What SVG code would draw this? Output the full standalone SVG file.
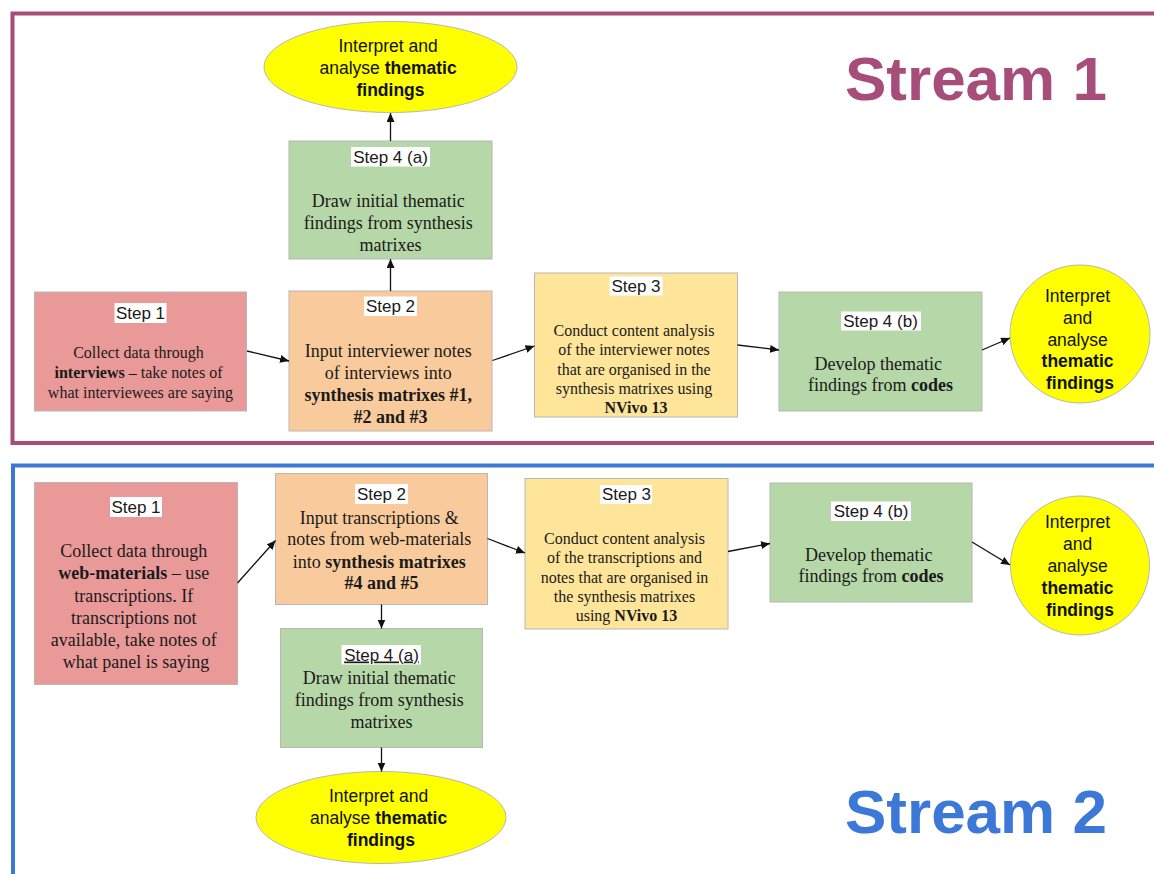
<svg xmlns="http://www.w3.org/2000/svg" width="1154" height="874" viewBox="0 0 1154 874">
  <style>
    .frame { fill: none; stroke-width: 4; }
    .box { stroke: #b7b7b7; stroke-width: 1; }
    .red { fill: #ea9999; }
    .orange { fill: #f9cb9c; }
    .yellow { fill: #ffe599; }
    .green { fill: #b6d7a8; }
    .oval { fill: #ffff00; stroke: #b7b7b7; stroke-width: 1; }
    .lblbg { fill: #ffffff; }
    .lbl { font-family: "Liberation Sans", Arial, sans-serif; font-size: 17px; fill: #1a1a1a; text-anchor: middle; }
    .serif { font-family: "Liberation Serif", "Times New Roman", serif; fill: #1a1a1a; text-anchor: middle; }
    .s16 { font-size: 16px; }
    .s18 { font-size: 18px; }
    .sans { font-family: "Liberation Sans", Arial, sans-serif; font-size: 17.5px; fill: #111; text-anchor: middle; }
    .b { font-weight: bold; }
    .title { font-family: "Liberation Sans", Arial, sans-serif; font-size: 62px; font-weight: bold; }
    .conn line { stroke: #111; stroke-width: 1.3; marker-end: url(#arrow); }
  </style>
  <defs>
    <marker id="arrow" markerUnits="userSpaceOnUse" markerWidth="10" markerHeight="8" refX="9" refY="4" orient="auto">
      <path d="M0,0 L9,4 L0,8 Z" fill="#111"/>
    </marker>
  </defs>

  <rect width="1154" height="874" fill="#ffffff"/>

  <!-- stream frames -->
  <rect class="frame" x="12.5" y="13.5" width="1160" height="429.5" stroke="#a64d79"/>
  <rect class="frame" x="13" y="465.5" width="1160" height="430" stroke="#3c78d8"/>
  <text class="title" x="845" y="100" fill="#a64d79">Stream 1</text>
  <text class="title" x="845" y="833" fill="#3c78d8">Stream 2</text>

  <!-- ===== Stream 1 ===== -->
  <g id="s1-interpret-top">
    <ellipse class="oval" cx="390.5" cy="67" rx="126.5" ry="45.5"/>
    <text class="sans">
      <tspan x="390.5" y="52">Interpret and</tspan>
      <tspan x="390.5" y="74">analyse <tspan class="b">thematic</tspan></tspan>
      <tspan x="390.5" y="96" class="b">findings</tspan>
    </text>
  </g>

  <g id="s1-step4a">
    <rect class="box green" x="289" y="141" width="203" height="118"/>
    <rect class="lblbg" x="351" y="147" width="79" height="19.5"/>
    <text class="lbl" x="390.5" y="162.5">Step 4 (a)</text>
    <text class="serif s18">
      <tspan x="390.5" y="207">Draw initial thematic</tspan>
      <tspan x="390.5" y="229">findings from synthesis</tspan>
      <tspan x="390.5" y="251">matrixes</tspan>
    </text>
  </g>

  <g id="s1-step1">
    <rect class="box red" x="34.5" y="292" width="212" height="119"/>
    <rect class="lblbg" x="114.5" y="303" width="52" height="20"/>
    <text class="lbl" x="140.5" y="319">Step 1</text>
    <text class="serif s16">
      <tspan x="140.5" y="358">Collect data through</tspan>
      <tspan x="140.5" y="377.5"><tspan class="b">interviews</tspan> – take notes of</tspan>
      <tspan x="140.5" y="397.5">what interviewees are saying</tspan>
    </text>
  </g>

  <g id="s1-step2">
    <rect class="box orange" x="289" y="291" width="203" height="140"/>
    <rect class="lblbg" x="364" y="296.5" width="53" height="19.5"/>
    <text class="lbl" x="390.5" y="312">Step 2</text>
    <text class="serif s18">
      <tspan x="390.5" y="357">Input interviewer notes</tspan>
      <tspan x="390.5" y="379">of interviews into</tspan>
      <tspan x="390.5" y="401" class="b">synthesis matrixes #1,</tspan>
      <tspan x="390.5" y="423" class="b">#2 and #3</tspan>
    </text>
  </g>

  <g id="s1-step3">
    <rect class="box yellow" x="534.5" y="273" width="203" height="144"/>
    <rect class="lblbg" x="609.5" y="276.5" width="53" height="19"/>
    <text class="lbl" x="636" y="291.5">Step 3</text>
    <text class="serif s16">
      <tspan x="636" y="335.5">Conduct content analysis</tspan>
      <tspan x="636" y="355">of the interviewer notes</tspan>
      <tspan x="636" y="374.5">that are organised in the</tspan>
      <tspan x="636" y="394">synthesis matrixes using</tspan>
      <tspan x="636" y="412.5" class="b">NVivo 13</tspan>
    </text>
  </g>

  <g id="s1-step4b">
    <rect class="box green" x="779" y="292" width="203" height="119"/>
    <rect class="lblbg" x="841" y="311.5" width="80" height="19"/>
    <text class="lbl" x="880.5" y="327">Step 4 (b)</text>
    <text class="serif s18">
      <tspan x="880.5" y="369.5">Develop thematic</tspan>
      <tspan x="880.5" y="391">findings from <tspan class="b">codes</tspan></tspan>
    </text>
  </g>

  <g id="s1-interpret-right">
    <ellipse class="oval" cx="1080" cy="334" rx="70" ry="69"/>
    <text class="sans">
      <tspan x="1080" y="302">Interpret</tspan>
      <tspan x="1080" y="324">and</tspan>
      <tspan x="1080" y="345.5">analyse</tspan>
      <tspan x="1080" y="367" class="b">thematic</tspan>
      <tspan x="1080" y="388.5" class="b">findings</tspan>
    </text>
  </g>

  <!-- ===== Stream 2 ===== -->
  <g id="s2-step1">
    <rect class="box red" x="34.5" y="482.5" width="203" height="202"/>
    <rect class="lblbg" x="110" y="497" width="52" height="20"/>
    <text class="lbl" x="136" y="513">Step 1</text>
    <text class="serif s18">
      <tspan x="136" y="557">Collect data through</tspan>
      <tspan x="136" y="579.3"><tspan class="b">web-materials</tspan> – use</tspan>
      <tspan x="136" y="601.7">transcriptions. If</tspan>
      <tspan x="136" y="623.7">transcriptions not</tspan>
      <tspan x="136" y="646">available, take notes of</tspan>
      <tspan x="136" y="667.7">what panel is saying</tspan>
    </text>
  </g>

  <g id="s2-step2">
    <rect class="box orange" x="275.5" y="473.5" width="212" height="131"/>
    <rect class="lblbg" x="355" y="484" width="53" height="20"/>
    <text class="lbl" x="381.5" y="500">Step 2</text>
    <text class="serif s18">
      <tspan x="381.5" y="523.7">Input transcriptions &amp;</tspan>
      <tspan x="381.5" y="545.3">notes from web-materials</tspan>
      <tspan x="381.5" y="567.7">into <tspan class="b">synthesis matrixes</tspan></tspan>
      <tspan x="381.5" y="589.3" class="b">#4 and #5</tspan>
    </text>
  </g>

  <g id="s2-step4a">
    <rect class="box green" x="280.5" y="628.5" width="202" height="119"/>
    <rect class="lblbg" x="341.5" y="645" width="79.5" height="19.5"/>
    <text class="lbl" x="381.5" y="660.5" text-decoration="underline">Step 4 (a)</text>
    <text class="serif s18">
      <tspan x="381.5" y="683.7">Draw initial thematic</tspan>
      <tspan x="381.5" y="706">findings from synthesis</tspan>
      <tspan x="381.5" y="727.7">matrixes</tspan>
    </text>
  </g>

  <g id="s2-interpret-bottom">
    <ellipse class="oval" cx="381" cy="817.5" rx="125" ry="46"/>
    <text class="sans">
      <tspan x="381" y="802">Interpret and</tspan>
      <tspan x="381" y="824">analyse <tspan class="b">thematic</tspan></tspan>
      <tspan x="381" y="846" class="b">findings</tspan>
    </text>
  </g>

  <g id="s2-step3">
    <rect class="box yellow" x="525" y="478.5" width="203" height="150.5"/>
    <rect class="lblbg" x="600" y="485" width="52" height="19"/>
    <text class="lbl" x="626.5" y="500">Step 3</text>
    <text class="serif s16">
      <tspan x="626.5" y="544">Conduct content analysis</tspan>
      <tspan x="626.5" y="563">of the transcriptions and</tspan>
      <tspan x="626.5" y="582.5">notes that are organised in</tspan>
      <tspan x="626.5" y="602">the synthesis matrixes</tspan>
      <tspan x="626.5" y="621">using <tspan class="b">NVivo 13</tspan></tspan>
    </text>
  </g>

  <g id="s2-step4b">
    <rect class="box green" x="770" y="483" width="202" height="119"/>
    <rect class="lblbg" x="831" y="501.5" width="80" height="19.5"/>
    <text class="lbl" x="871" y="517">Step 4 (b)</text>
    <text class="serif s18">
      <tspan x="871" y="561">Develop thematic</tspan>
      <tspan x="871" y="582">findings from <tspan class="b">codes</tspan></tspan>
    </text>
  </g>

  <g id="s2-interpret-right">
    <ellipse class="oval" cx="1080" cy="565.5" rx="69.5" ry="69.5"/>
    <text class="sans">
      <tspan x="1080" y="528">Interpret</tspan>
      <tspan x="1080" y="550">and</tspan>
      <tspan x="1080" y="572">analyse</tspan>
      <tspan x="1080" y="594" class="b">thematic</tspan>
      <tspan x="1080" y="616" class="b">findings</tspan>
    </text>
  </g>

  <!-- connectors -->
  <g id="connectors" class="conn">
    <line x1="247" y1="351" x2="289" y2="361"/>
    <line x1="492.5" y1="360.5" x2="534.5" y2="346"/>
    <line x1="737.5" y1="345" x2="779" y2="350"/>
    <line x1="982" y1="350" x2="1010" y2="338"/>
    <line x1="390.5" y1="291" x2="390.5" y2="259"/>
    <line x1="390.5" y1="141" x2="390.5" y2="113"/>

    <line x1="237.5" y1="583" x2="275.5" y2="540.5"/>
    <line x1="381.5" y1="604.5" x2="381.5" y2="628.5"/>
    <line x1="381.5" y1="747.5" x2="381.5" y2="771.5"/>
    <line x1="487.5" y1="538.5" x2="525" y2="553"/>
    <line x1="728" y1="551.5" x2="770" y2="543.5"/>
    <line x1="972" y1="542" x2="1010" y2="565"/>
  </g>
</svg>
